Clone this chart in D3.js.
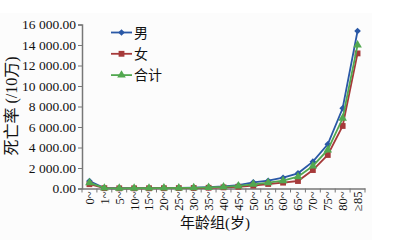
<!DOCTYPE html>
<html>
<head>
<meta charset="utf-8">
<script src="https://cdn.jsdelivr.net/npm/d3@7"></script>
<style>
  body { margin: 0; background: #fff; }
  svg { display: block; }
</style>
</head>
<body>
<script>
// age groups, mortality per 100k
const ageGroups = ["0~", "1~", "5~", "10~", "15~", "20~", "25~", "30~", "35~", "40~",
                   "45~", "50~", "55~", "60~", "65~", "70~", "75~", "80~", "≥85"];
const male   = [720, 45, 25, 30, 45, 60, 70, 90, 130, 200, 320, 600, 760, 1050, 1480, 2620, 4310, 7830, 15370];
const female = [420, 35, 18, 20, 25, 30, 40, 50, 70, 110, 170, 280, 440, 570, 730, 1800, 3270, 6100, 13180];
const total  = [570, 40, 22, 25, 35, 45, 55, 70, 100, 150, 250, 410, 570, 760, 1150, 2200, 3760, 6850, 14000];
const yTicks = [0, 2000, 4000, 6000, 8000, 10000, 12000, 14000, 16000];

const series = [
  { name: "男",   values: male,   color: "#2a58a6", symbol: d3.symbolDiamond2, size: 28 },
  { name: "女",   values: female, color: "#a63a3a", symbol: d3.symbolSquare,   size: 34 },
  { name: "合计", values: total,  color: "#52a850", symbol: d3.symbolTriangle, size: 32 }
];

const width = 399, height = 240;
const margin = { top: 24.5, right: 34, bottom: 51.5, left: 82 };
const serif = "'Liberation Serif', 'Times New Roman', 'Noto Sans CJK SC', serif";
const cjk = "'Liberation Serif', 'Noto Sans CJK SC', serif";

const svg = d3.select("body").append("svg")
    .attr("width", width)
    .attr("height", height);

svg.append("rect")
    .attr("x", 0).attr("y", 13)
    .attr("width", 372).attr("height", height - 13)
    .attr("fill", "#fcfcfc");

const x = d3.scaleBand()
    .domain(ageGroups)
    .range([margin.left, width - margin.right]);

const y = d3.scaleLinear()
    .domain([0, 16000])
    .range([height - margin.bottom, margin.top]);

const fmt = v => d3.format(",.2f")(v).replace(/,/g, " ");

// y axis
const yAxis = svg.append("g")
    .attr("transform", `translate(${margin.left},0)`)
    .call(d3.axisLeft(y).tickValues(yTicks).tickFormat(fmt).tickSize(4).tickPadding(2));
yAxis.select(".domain").attr("stroke", "#777").attr("stroke-width", 1.5);
yAxis.selectAll(".tick line").attr("stroke", "#777");
yAxis.selectAll("text").attr("font-family", serif).attr("font-size", 13.5).attr("fill", "#111");

// x axis
const xAxis = svg.append("g")
    .attr("transform", `translate(0,${height - margin.bottom})`)
    .call(d3.axisBottom(x).tickSize(0).tickSizeOuter(0));
xAxis.select(".domain").attr("stroke", "#777").attr("stroke-width", 1.5);
xAxis.selectAll(".tick line").remove();
xAxis.selectAll("text")
    .attr("font-family", serif)
    .attr("font-size", 12.5)
    .attr("fill", "#111")
    .attr("text-anchor", "end")
    .attr("dy", "0.35em")
    .attr("transform", "translate(0,3) rotate(-90)")
    .attr("x", 0).attr("y", 0);

// boundary ticks between categories
const bounds = ageGroups.map(g => x(g)).concat([x(ageGroups[ageGroups.length - 1]) + x.bandwidth()]);
xAxis.selectAll(".bound")
  .data(bounds)
  .join("line")
    .attr("x1", d => d).attr("x2", d => d)
    .attr("y1", 0).attr("y2", 4)
    .attr("stroke", "#777");

// lines
const line = d3.line()
    .x((d, i) => x(ageGroups[i]) + x.bandwidth() / 2)
    .y(d => y(d));

series.forEach(s => {
  svg.append("path")
      .datum(s.values)
      .attr("fill", "none")
      .attr("stroke", s.color)
      .attr("stroke-width", 1.8)
      .attr("d", line);
  svg.append("g").selectAll("path")
    .data(s.values)
    .join("path")
      .attr("d", d3.symbol().type(s.symbol).size(s.size))
      .attr("transform", (d, i) => `translate(${x(ageGroups[i]) + x.bandwidth() / 2},${y(d)})`)
      .attr("fill", s.color);
});

// legend
const legend = svg.append("g").attr("transform", "translate(111,32.5)");
series.forEach((s, i) => {
  const g = legend.append("g").attr("transform", `translate(0,${i * 21.3})`);
  g.append("line").attr("x1", 0).attr("x2", 21).attr("stroke", s.color).attr("stroke-width", 1.8);
  g.append("path")
      .attr("d", d3.symbol().type(s.symbol).size(s.size))
      .attr("transform", "translate(10.5,0)")
      .attr("fill", s.color);
  g.append("text")
      .attr("x", 23)
      .attr("dy", "0.36em")
      .attr("font-family", cjk)
      .attr("font-size", 14)
      .attr("fill", "#111")
      .text(s.name);
});

// axis titles
svg.append("text")
    .attr("transform", "translate(17,106) rotate(-90)")
    .attr("text-anchor", "middle")
    .attr("font-family", cjk)
    .attr("font-size", 16)
    .attr("fill", "#111")
    .text("死亡率 (/10万)");

svg.append("text")
    .attr("x", 215)
    .attr("y", 228)
    .attr("text-anchor", "middle")
    .attr("font-family", cjk)
    .attr("font-size", 15)
    .attr("fill", "#111")
    .text("年龄组(岁)");
</script>
</body>
</html>
